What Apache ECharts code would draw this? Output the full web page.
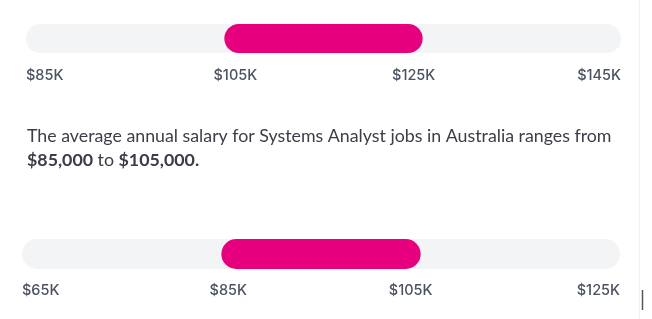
<!DOCTYPE html>
<html><head><meta charset="utf-8">
<script src="https://cdn.jsdelivr.net/npm/echarts@6/dist/echarts.min.js"></script>
<style>html,body{margin:0;padding:0;background:#fff}#c{width:652px;height:319px}</style>
</head><body><div id="c"></div>
<script>
// Data
const topScale = [85, 145];           // axis min/max (K$)
const topRange = [105, 125];          // highlighted salary range (K$)
const topTicks = ['$85K', '$105K', '$125K', '$145K'];
const bottomScale = [65, 125];
const bottomRange = [85, 105];
const bottomTicks = ['$65K', '$85K', '$105K', '$125K'];
const sentence = 'The average annual salary for Systems Analyst jobs in Australia ranges from';
const rangeLow = '$85,000';
const rangeHigh = '$105,000.';

const PINK = '#e6007e', TRACK = '#f3f4f6', LABEL = '#4b5160', TEXT = '#3b3e48';
const FONT = 'Lato', LFONT = 'Inter';

function renderRange(color) {
  return function (params, api) {
    const s = api.coord([api.value(0), api.value(2)]);
    const e = api.coord([api.value(1), api.value(2)]);
    const h = api.size([0, 1])[1];
    return { type: 'rect', shape: { x: s[0], y: s[1] - h / 2, width: e[0] - s[0], height: h, r: h / 2 }, style: { fill: color } };
  };
}
function key(d) { return d >= 0 ? 'p' + d : 'm' + (-d); }
function labelFmt(ticks, shifts) {
  return function (v, i) { return '{' + key(shifts[i]) + '|' + ticks[i] + '}'; };
}
function rich(shiftsList) {
  const r = {};
  shiftsList.forEach(function (d) {
    const pad = d >= 0 ? [0, 0, 0, 2 * d] : [0, -2 * d, 0, 0];
    r[key(d)] = { fontFamily: LFONT, fontSize: 14.5, fontWeight: 500, color: LABEL, lineHeight: 16, padding: pad };
  });
  return r;
}
const topShift = [0, 11, -9, 0];
const botShift = [0, 7, -10, 0];
function xAxis(gi, scale, ticks, shifts, margin) {
  return {
    gridIndex: gi, type: 'value', min: scale[0], max: scale[1], interval: 20,
    axisLine: { show: false }, axisTick: { show: false }, splitLine: { show: false },
    axisLabel: {
      margin: margin, showMinLabel: true, showMaxLabel: true, hideOverlap: false,
      alignMinLabel: 'left', alignMaxLabel: 'right',
      formatter: labelFmt(ticks, shifts), rich: rich(shifts)
    }
  };
}
function yAxis(gi) {
  return { gridIndex: gi, type: 'category', data: ['r'], show: false };
}
function series(gi, data, color) {
  return { type: 'custom', xAxisIndex: gi, yAxisIndex: gi, clip: false, silent: true,
    renderItem: renderRange(color), encode: { x: [0, 1], y: 2 }, data: [data] };
}

const chart = echarts.init(document.getElementById('c'), null, { renderer: 'canvas' });
chart.setOption({
  animation: false,
  backgroundColor: '#fff',
  title: {
    left: 22, top: 119,
    text: '{n|' + sentence + '}\n{b|' + rangeLow + '}{n| to }{b|' + rangeHigh + '}',
    textStyle: {
      fontWeight: 'normal',
      rich: {
        n: { fontFamily: FONT, fontSize: 17.8, color: TEXT, fontWeight: 'normal', lineHeight: 24 },
        b: { fontFamily: FONT, fontSize: 17.8, color: TEXT, fontWeight: 'bold', lineHeight: 24 }
      }
    }
  },
  grid: [
    { left: 26, right: 31, top: 24, height: 29 },
    { left: 22, right: 32, top: 239, height: 30 }
  ],
  xAxis: [xAxis(0, topScale, topTicks, topShift, 15), xAxis(1, bottomScale, bottomTicks, botShift, 14)],
  yAxis: [yAxis(0), yAxis(1)],
  series: [
    series(0, [topScale[0], topScale[1], 0], TRACK),
    series(0, [topRange[0], topRange[1], 0], PINK),
    series(1, [bottomScale[0], bottomScale[1], 0], TRACK),
    series(1, [bottomRange[0], bottomRange[1], 0], PINK)
  ],
  graphic: [
    { type: 'line', shape: { x1: 639.5, y1: 0, x2: 639.5, y2: 319 }, style: { stroke: '#f2f2f2', lineWidth: 1 } },
    { type: 'line', shape: { x1: 642.5, y1: 290, x2: 642.5, y2: 310 }, style: { stroke: '#555', lineWidth: 1.5 } }
  ]
});
</script></body></html>
